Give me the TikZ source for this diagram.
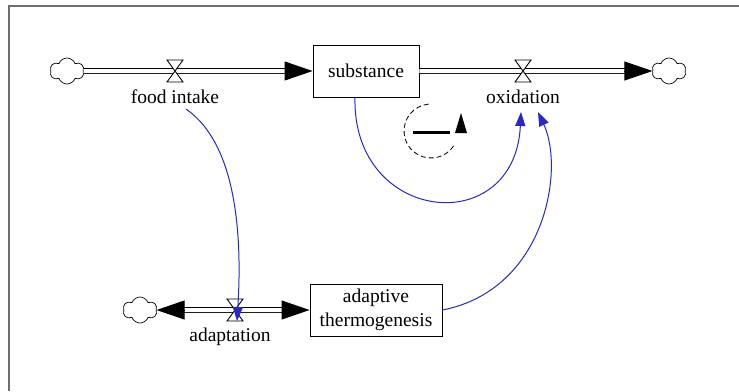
\documentclass[tikz,border=0pt]{standalone}
\usepackage{fontspec}
\setmainfont{Liberation Serif}
\newfontfamily\diagfont{Liberation Serif}
\usetikzlibrary{shapes.symbols,arrows.meta}
\definecolor{linkblue}{RGB}{40,40,200}
\definecolor{framegray}{RGB}{110,110,110}
\begin{document}
\begin{tikzpicture}[x=1bp,y=-1bp,
  txt/.style={font=\diagfont\fontsize{19.5bp}{24bp}\selectfont},
  lbl/.style={txt, inner sep=0, anchor=base},
  stock/.style={draw, line width=0.9bp, txt, inner sep=0, align=center},
  sky/.style={cloud, draw, cloud puffs=6, cloud puff arc=140, aspect=1.3,
    minimum width=34bp, minimum height=26bp, inner sep=0, line width=0.7bp},
  pipe/.style={draw, double, double distance=4bp, line width=0.9bp},
  pipetip/.style={-{Triangle[length=28bp,width=19bp]}, line width=0.9bp},
  link/.style={draw=linkblue, line width=1bp,
    -{Triangle[length=14bp,width=10bp]}, fill=none},
  valvebox/.style={inner sep=0, minimum width=16bp, minimum height=22bp},
  valve/.pic={\draw[fill=white, line width=0.9bp] (-8,-11) -- (8,-11) -- (-8,11) -- (8,11) -- cycle;}
]
\useasboundingbox (0,0) rectangle (739,391);
\draw[framegray, line width=1.5bp] (9,391) -- (9,6) -- (739,6);

% stocks
\node[stock, minimum width=106bp, minimum height=52bp] (subst) at (366,71) {substance};
\node[stock, minimum width=132bp, minimum height=52bp] (therm) at (376,310) {adaptive\\thermogenesis};

% clouds
\node[sky] (skyL) at (67,71) {};
\node[sky] (skyR) at (669,71) {};
\node[sky] (skyB) at (140,310) {};

% valves
\node[valvebox] (v1) at (175,71) {};
\node[valvebox] (v2) at (523,71) {};
\node[valvebox] (v3) at (235,310) {};

% pipes
\draw[pipe, shorten >=26bp] (skyL) -- (subst.west);
\draw[pipetip] ([xshift=-28bp]subst.west) -- (subst.west);
\draw[pipe, shorten >=26bp] (subst.east) -- (skyR);
\draw[pipetip] ([xshift=-28bp]skyR.west) -- (skyR.west);
\draw[pipe, shorten <=26bp, shorten >=26bp] (skyB) -- (therm.west);
\draw[pipetip] ([xshift=28bp]skyB.east) -- (skyB.east);
\draw[pipetip] ([xshift=-28bp]therm.west) -- (therm.west);

\pic at (v1) {valve};
\pic at (v2) {valve};
\pic at (v3) {valve};

% labels
\node[lbl] (l1) at (175,103) {food intake};
\node[lbl] (l2) at (523,103) {oxidation};
\node[lbl] (l3) at (230,341) {adaptation};

% link end points
\coordinate (fi) at (186,109);
\coordinate (ox1) at (521,112);
\coordinate (ox2) at (538,112);
\coordinate (ad) at (237,321);

% blue links
\draw[link] ([xshift=-11bp]subst.south) .. controls (352,224) and (515,240) .. (ox1);
\draw[link] (therm.east) .. controls (545,290) and (565,170) .. (ox2);
\draw[link] (fi) .. controls (238,145) and (242,240) .. (ad);

% loop symbol
\coordinate (loop) at (431,131);
\draw[dash pattern=on 5bp off 3bp, line width=0.8bp] (loop) ++(-95:27) arc[start angle=-95, end angle=-332, radius=27];
\fill (455,133) -- (467,133) -- (461,113) -- cycle;
\draw[line width=3bp] (413,132) -- (450,132);
\end{tikzpicture}
\end{document}
